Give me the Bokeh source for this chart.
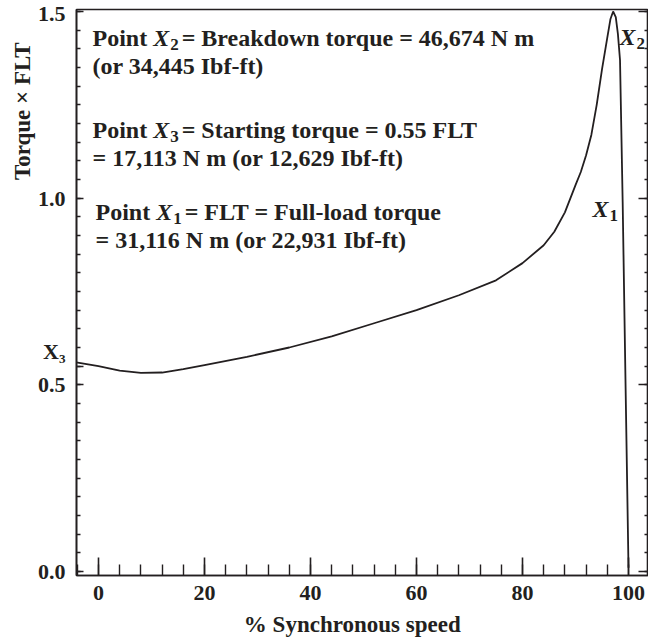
import math
from bokeh.plotting import figure
from bokeh.models import (Range1d, SingleIntervalTicker, FixedTicker, LinearAxis, Label, Title,
                          PrintfTickFormatter, ColumnDataSource)
from bokeh.embed import file_html
from bokeh.resources import INLINE

# ---- data ----
speed = [-4.2, 0, 4, 8, 12, 16, 20, 28, 36, 44, 52, 60, 68, 75, 80, 84, 86, 88, 90, 91, 92,
         93, 94, 95, 96, 96.6, 97.1, 97.6, 98.0, 98.4, 98.9, 99.4, 100.0]
torque = [0.56, 0.55, 0.538, 0.532, 0.533, 0.542, 0.553, 0.575, 0.600, 0.630, 0.665, 0.700,
          0.740, 0.780, 0.826, 0.874, 0.910, 0.962, 1.035, 1.070, 1.115,
          1.170, 1.250, 1.345, 1.430, 1.480, 1.500, 1.485, 1.440, 1.370, 0.990, 0.540, 0.010]

x_tick_step = 20
x_minor = 4
y_major_ticks = [0.0, 0.5, 0.55, 1.0, 1.5]
y_minor_ticks = [round(0.05 * k, 2) for k in range(0, 31)]
y_tick_labels = {0.0: "0.0", 0.5: "0.5", 0.55: "X\u2083\n\u00a0", 1.0: "1.0", 1.5: "1.5"}

x_title = "% Synchronous speed"
y_title = "Torque \u00d7 FLT"

notes = [
    ("Point ", "X", "2", " = Breakdown torque = 46,674 N m"),
    ("(or 34,445 Ibf-ft)", None, None, None),
    ("Point ", "X", "3", " = Starting torque = 0.55 FLT"),
    ("= 17,113 N m (or 12,629 Ibf-ft)", None, None, None),
    ("Point ", "X", "1", " = FLT = Full-load torque"),
    ("= 31,116 N m (or 22,931 Ibf-ft)", None, None, None),
]
point_labels = [("X", "2"), ("X", "1")]

# ---- layout helpers (page pixels -> data) ----
PX0, PX_PER = 98.0, 5.3      # x=0 at px 98, 5.3 px per %
PY0, PY_PER = 572.0, 374.0   # y=0 at px 572, 374 px per unit

def px2x(px):
    return (px - PX0) / PX_PER

def py2y(py):
    return (PY0 - py) / PY_PER

INK = "#231f20"
FONT = "Liberation Serif"

p = figure(width=648, height=644, output_backend="svg", toolbar_location=None,
           x_range=Range1d(px2x(76), px2x(648)), y_range=Range1d(py2y(576), py2y(9)),
           min_border_left=76, min_border_right=0, min_border_top=9, min_border_bottom=68,
           background_fill_color="white", border_fill_color="white")
p.grid.visible = False
p.outline_line_color = INK
p.outline_line_width = 1.6

src = ColumnDataSource(dict(speed=speed, torque=torque))
p.line("speed", "torque", source=src, line_color=INK, line_width=1.8)

xa = p.xaxis[0]
xa.ticker = SingleIntervalTicker(interval=x_tick_step, num_minor_ticks=x_minor + 1)
xa.major_tick_in = 18
xa.major_tick_out = 0
xa.minor_tick_in = 11
xa.minor_tick_out = 0
xa.major_label_standoff = 10

ya = p.yaxis[0]
ya.ticker = FixedTicker(ticks=y_major_ticks, minor_ticks=y_minor_ticks)
ya.formatter = PrintfTickFormatter(format="%.1f")
ya.major_label_overrides = y_tick_labels
ya.major_tick_in = 7
ya.major_tick_out = 0
ya.minor_tick_in = 4
ya.minor_tick_out = 0
ya.major_label_standoff = 11

for ax in (xa, ya):
    ax.axis_line_color = INK
    ax.axis_line_width = 1.6
    ax.major_tick_line_color = INK
    ax.minor_tick_line_color = INK
    ax.major_tick_line_width = 1.6
    ax.minor_tick_line_width = 1.4
    ax.major_label_text_font = FONT
    ax.major_label_text_font_style = "bold"
    ax.major_label_text_font_size = "22px"
    ax.major_label_text_color = INK

ra = LinearAxis(ticker=SingleIntervalTicker(interval=0.5, num_minor_ticks=10),
                major_label_text_font_size="1px", major_label_text_color=None,
                major_label_standoff=0,
                major_tick_in=10, major_tick_out=0, minor_tick_in=4, minor_tick_out=0,
                axis_line_color=None, major_tick_line_color=INK, minor_tick_line_color=INK,
                major_tick_line_width=1.6, minor_tick_line_width=1.4)
p.add_layout(ra, "right")

# axis titles as side-panel titles
yt = Title(text=y_title, align="right", offset=33, text_font=FONT, text_font_style="bold",
           text_font_size="23px", text_color=INK, standoff=0)
p.add_layout(yt, "left")
xt_width = 9.446 * 23
xt = Title(text=x_title, align="left", offset=352 - 76 - xt_width / 2, text_font=FONT,
           text_font_style="bold", text_font_size="23px", text_color=INK, standoff=15)
p.add_layout(xt, "below")

def lab(px, py, text, size=24, style="bold", align="left", baseline="alphabetic"):
    p.add_layout(Label(x=px2x(px), y=py2y(py), text=text, text_font=FONT,
                       text_font_style=style, text_font_size=f"{size}px",
                       text_color=INK, text_align=align, text_baseline=baseline))

FS = 24
SUB = 17
W_POINT = (611 + 500 + 278 + 556 + 333 + 250) / 1000.0   # "Point " (Times bold)
W_X = 667 / 1000.0                                         # italic bold X
W_DIG = 500 / 1000.0

def sub_text(px, py, main, sub):
    lab(px, py, main, FS, "bold italic")
    lab(px + W_X * FS + 1, py + 6, sub, SUB, "bold")
    return px + W_X * FS + 1 + W_DIG * SUB

line_pos = [(92, 38), (92, 66), (92, 130), (92, 158), (95, 212), (95, 240)]
for (a, xx, s, rest), (px, py) in zip(notes, line_pos):
    lab(px, py, a, FS)
    if xx is not None:
        nx = sub_text(px + W_POINT * FS, py, xx, s)
        lab(nx + 3, py, rest, FS)

label_pos = [(619, 37), (592, 209)]
for (m, s), (px, py) in zip(point_labels, label_pos):
    sub_text(px, py, m, s)

open("out.html", "w").write(file_html(p, INLINE))
